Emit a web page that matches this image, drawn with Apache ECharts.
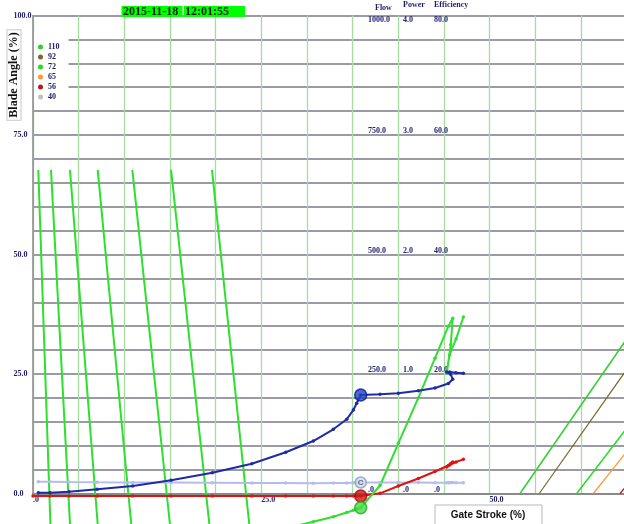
<!DOCTYPE html>
<html><head><meta charset="utf-8">
<script src="https://cdn.jsdelivr.net/npm/echarts@6/dist/echarts.min.js"></script>
<style>html,body{margin:0;padding:0;background:#fff}#c{width:624px;height:524px}</style>
</head><body><div id="c"></div>
<script>
// ---------- data ----------
const gateStroke = [0, 0.58, 1.86, 3.94, 7.04, 10.92, 15.12, 19.64, 23.96, 27.68, 30.70, 32.89, 34.36, 35.08, 35.45, 35.89, 38.01, 40.01, 42.20, 44.03, 45.49, 45.97, 45.75, 45.31, 45.62, 46.33, 47.13];
const bladeAngle = [null, 0.17, 0.17, 0.38, 0.88, 1.57, 2.76, 4.35, 6.23, 8.62, 10.98, 13.43, 15.52, 17.47, 18.87, 20.61, 20.75, 20.96, 21.51, 22.07, 23.01, 23.89, 24.9, 25.42, 25.42, 25.27, 25.15];
const flowTrace = [null, 2.45, 2.45, 2.4, 2.35, 2.3, 2.3, 2.25, 2.2, 2.2, 2.15, 2.2, 2.2, 2.25, 2.25, 2.3, 2.3, 2.3, 2.3, 2.25, 2.25, 2.3, 2.3, 2.25, 2.25, 2.25, 2.25];
const powerTrace = [-0.52, null, -0.52, -0.52, -0.52, -0.52, -0.52, -0.52, -0.52, -0.52, -0.52, -0.52, -0.52, -0.52, -0.52, -0.52, 0.04, 1.57, 3.14, 4.6, 5.86, 6.59, 6.28, 5.54, 5.96, 6.59, 7.15];
const efficiencyTrace = [null, null, null, null, null, null, null, null, null, -7.3, -5.9, -4.85, -3.97, -3.5, -3.25, -2.97, 1.67, 10.5, 20.0, 28.3, 35.0, 36.65, 31.1, 25.2, 29.0, 32.3, 36.9];
const currentIndex = 15;

// steep constant lines (gate stroke, blade angle)
const steepLine1 = [[0.58, 67.7], [1.79, 0], [1.92, -7]];
const steepLine2 = [[1.97, 67.7], [3.87, 0], [4.07, -7]];
const steepLine3 = [[4.05, 67.7], [6.82, 0], [7.11, -7]];
const steepLine4 = [[7.09, 67.7], [10.44, 0], [10.79, -7]];
const steepLine5 = [[10.88, 67.7], [14.64, 0], [15.03, -7]];
const steepLine6 = [[15.12, 67.7], [18.95, 0], [19.35, -7]];
const steepLine7 = [[19.6, 67.7], [23.33, 0], [23.72, -7]];

// head curves (legend)
const headNames = ['110', '92', '72', '65', '56', '40'];
const head110 = [[53.34, 0], [67, 37.8]];
const head92 = [[55.45, 0], [67, 31.3]];
const head72 = [[59.55, 0], [67, 18.6]];
const head65 = [[61.37, 0], [67, 13.5]];
const head56 = [[64.3, 0], [67, 6.3]];
const head40 = [];

// axis labels
const flowTicks = [0, 250, 500, 750, 1000];
const powerTicks = [0, 1, 2, 3, 4];
const effTicks = [0, 20, 40, 60, 80];
const dateText = '2015-11-18';
const timeText = '12:01:55';

// ---------- chart ----------
const NAVY = '#1c1c6e';
const SERIF = '"Liberation Serif", "Times New Roman", serif';
const fmt = v => v === 0 ? '.0' : v.toFixed(1);
const pairs = arr => gateStroke.map((x, i) => [x, arr[i]]).filter(p => p[1] !== null);

function secAxis(name, ticks, axisX, namePad, nameGap) {
  return {
    type: 'value', gridIndex: 0, position: 'left', offset: -(axisX - 33),
    min: ticks[0], max: ticks[ticks.length - 1], interval: ticks[1] - ticks[0],
    name: name, nameLocation: 'end', nameGap: nameGap,
    nameTextStyle: { color: NAVY, fontFamily: SERIF, fontWeight: 'bold', fontSize: 8, align: 'left', padding: [0, 0, 0, namePad] },
    axisLine: { show: false }, axisTick: { show: false }, splitLine: { show: false },
    axisLabel: { inside: true, margin: 0, align: 'left', verticalAlign: 'bottom', verticalAlignMaxLabel: 'top',
      color: NAVY, fontFamily: SERIF, fontWeight: 'bold', fontSize: 8, formatter: fmt }
  };
}

const steepStyle = { type: 'line', showSymbol: false, symbol: 'none', clip: false, silent: true,
  lineStyle: { color: '#2ee02e', width: 2 }, itemStyle: { color: '#2ee02e' }, z: 3 };
const steepSeries = [steepLine1, steepLine2, steepLine3, steepLine4, steepLine5, steepLine6, steepLine7]
  .map((d, i) => Object.assign({ name: 'steep' + (i + 1), data: d }, steepStyle));

const headColors = ['#33cc33', '#77692c', '#22dd22', '#ff9933', '#b01c1c', '#c0c0c0'];
const headWidths = [1.5, 1.2, 1.5, 1.3, 1.3, 1.3];
const headSeries = [head110, head92, head72, head65, head56, head40].map((d, i) => ({
  type: 'line', name: headNames[i], data: d, symbol: 'none', clip: false, z: 3,
  lineStyle: { color: headColors[i], width: headWidths[i] }, itemStyle: { color: headColors[i] }
}));

function trace(name, arr, color, z) {
  return { type: 'line', name: name, data: pairs(arr), clip: false, z: z,
    symbol: 'circle', symbolSize: 3.5, showAllSymbol: true,
    lineStyle: { color: color, width: 2 }, itemStyle: { color: color } };
}
const cx = gateStroke[currentIndex];
const bigMarker = (name, y, color, border, label) => ({
  type: 'scatter', name: name, data: [[cx, y]], clip: false, z: 6, symbolSize: label ? 11 : 12,
  itemStyle: { color: color, borderColor: border, borderWidth: 1.5 },
  label: label ? { show: true, position: 'inside', formatter: label, color: '#405070', fontSize: 8, fontWeight: 'bold', fontFamily: 'Liberation Sans' } : { show: false }
});

const chart = echarts.init(document.getElementById('c'), null, { renderer: 'canvas' });
chart.setOption({
  animation: false,
  backgroundColor: '#ffffff',
  grid: { left: 33, right: -2.5, top: 15.5, bottom: 30.5, outerBoundsMode: 'none', containLabel: false },
  legend: {
    data: headNames, orient: 'vertical', left: 34, top: 33, icon: 'circle',
    itemWidth: 5, itemHeight: 5, itemGap: 2, padding: [10, 9, 6, 4],
    backgroundColor: '#ffffff', selectedMode: false, z: 8,
    textStyle: { color: NAVY, fontFamily: SERIF, fontWeight: 'bold', fontSize: 8, lineHeight: 8 }
  },
  xAxis: {
    type: 'value', min: 0, max: 65, interval: 5,
    axisLine: { show: true, lineStyle: { color: '#8a8a8a', width: 2 } },
    axisTick: { show: false },
    splitLine: { show: true, lineStyle: { color: '#a6dca0', width: 1.3 } },
    axisLabel: { margin: 2, align: 'left', color: NAVY, fontFamily: SERIF, fontWeight: 'bold', fontSize: 8,
      formatter: v => v % 25 === 0 ? fmt(v) : '' }
  },
  yAxis: [
    {
      type: 'value', min: 0, max: 100, interval: 5, position: 'left',
      axisLine: { show: true, lineStyle: { color: '#8a8a8a', width: 1.5 } },
      axisTick: { show: false },
      splitLine: { show: true, lineStyle: { color: '#7a7a86', width: 1.6 } },
      axisLabel: { margin: 19.5, align: 'left', color: NAVY, fontFamily: SERIF, fontWeight: 'bold', fontSize: 8,
        formatter: v => v % 25 === 0 ? v.toFixed(1) : '' }
    },
    secAxis('Flow', flowTicks, 368, 7, 4),
    secAxis('Power', powerTicks, 403, 0, 7),
    secAxis('Efficiency', effTicks, 434, 0, 7)
  ],
  series: [].concat(steepSeries, headSeries, [
    trace('flow', flowTrace, '#b4bdea', 4),
    trace('power', powerTrace, '#dd1414', 4),
    trace('efficiency', efficiencyTrace, '#33dd33', 4),
    trace('blade', bladeAngle, '#1f2aa6', 5),
    bigMarker('curBlade', bladeAngle[currentIndex], '#2040c8', '#0c1a86'),
    bigMarker('curFlow', flowTrace[currentIndex], '#cfdcf2', '#8a98b8', 'C'),
    bigMarker('curPower', powerTrace[currentIndex], '#d01818', '#a00a0a'),
    bigMarker('curEff', efficiencyTrace[currentIndex], '#44dd44', '#1fa51f')
  ]),
  graphic: [
    { type: 'rect', shape: { x: 121.5, y: 6, width: 61, height: 11 }, style: { fill: '#00ff00' }, z: 20 },
    { type: 'rect', shape: { x: 184, y: 6, width: 61, height: 11 }, style: { fill: '#00ff00' }, z: 20 },
    { type: 'text', x: 123, y: 11.5, z: 21, style: { text: dateText, fill: '#102010', font: 'bold 12px ' + SERIF, textAlign: 'left', textVerticalAlign: 'middle' } },
    { type: 'text', x: 185, y: 11.5, z: 21, style: { text: timeText, fill: '#102010', font: 'bold 12px ' + SERIF, textAlign: 'left', textVerticalAlign: 'middle' } },
    { type: 'text', x: 14, y: 75, rotation: Math.PI / 2, z: 21,
      style: { text: 'Blade Angle (%)', fill: '#111', font: 'bold 12px ' + SERIF, textAlign: 'center', textVerticalAlign: 'middle',
        backgroundColor: '#fff', borderColor: '#c8c8c8', borderWidth: 1, padding: [1, 2, 0, 2] } },
    { type: 'rect', shape: { x: 435, y: 505, width: 107, height: 22 }, style: { fill: '#ffffff', stroke: '#b8b8b8', lineWidth: 1 }, z: 20 },
    { type: 'text', x: 488, y: 515.5, z: 21, style: { text: 'Gate Stroke (%)', fill: '#111', font: 'bold 10px "Liberation Sans", Arial, sans-serif', textAlign: 'center', textVerticalAlign: 'middle' } }
  ]
});
</script></body></html>
